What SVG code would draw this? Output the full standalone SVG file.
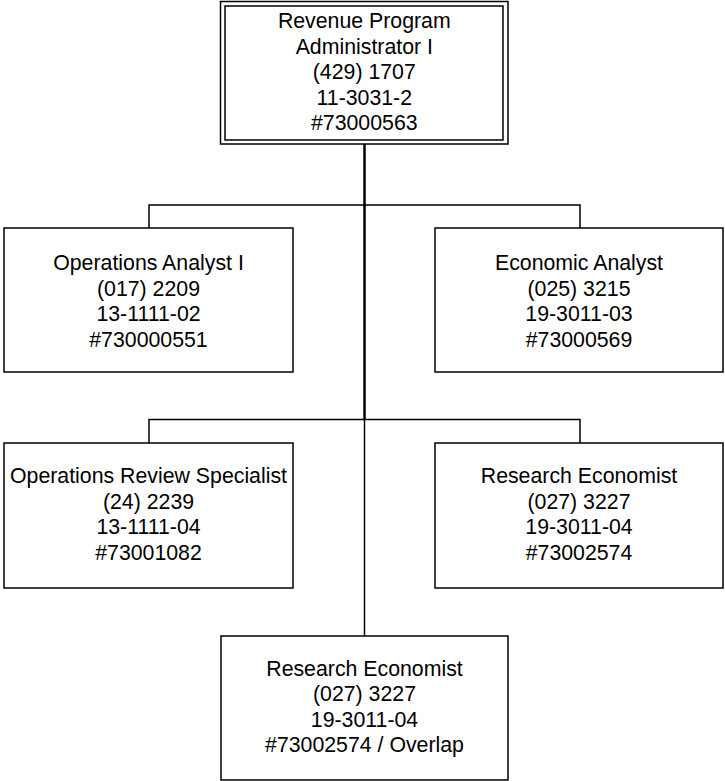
<svg xmlns="http://www.w3.org/2000/svg" width="725" height="781" viewBox="0 0 725 781">
  <style>
    .box { fill: #ffffff; stroke: #000000; stroke-width: 1.5; }
    .wire { fill: none; stroke: #000000; stroke-width: 1.5; }
    .trunk { fill: none; stroke: #000000; stroke-width: 2.5; }
    text { font-family: "Liberation Sans", Arial, sans-serif; font-size: 21.3px; fill: #000000; text-anchor: middle; }
  </style>
  <rect x="0" y="0" width="725" height="781" fill="#ffffff"/>

  <!-- reporting lines -->
  <g id="connectors">
    <path class="trunk" d="M364.5 144 V419.5"/>
    <path class="wire" d="M364.5 419.5 V636"/>
    <path class="wire" d="M149 228 V205 H580 V228"/>
    <path class="wire" d="M149 443 V419.5 H580 V443"/>
  </g>

  <g id="node-admin">
    <rect class="box" x="220.5" y="1.5" width="287.5" height="142.5"/>
    <rect class="box" x="225" y="6" width="278" height="134"/>
    <text x="364.3" y="28">Revenue Program</text>
    <text x="364.3" y="53.5">Administrator I</text>
    <text x="364.3" y="79">(429) 1707</text>
    <text x="364.3" y="104.5">11-3031-2</text>
    <text x="364.3" y="130">#73000563</text>
  </g>

  <g id="node-ops-analyst">
    <rect class="box" x="4" y="228" width="289" height="144"/>
    <text x="148.5" y="270">Operations Analyst I</text>
    <text x="148.5" y="295.5">(017) 2209</text>
    <text x="148.5" y="321">13-1111-02</text>
    <text x="148.5" y="346.5">#730000551</text>
  </g>

  <g id="node-econ-analyst">
    <rect class="box" x="435" y="228" width="288" height="144"/>
    <text x="579" y="270">Economic Analyst</text>
    <text x="579" y="295.5">(025) 3215</text>
    <text x="579" y="321">19-3011-03</text>
    <text x="579" y="346.5">#73000569</text>
  </g>

  <g id="node-ops-review">
    <rect class="box" x="4" y="443" width="289" height="145"/>
    <text x="148.5" y="483">Operations Review Specialist</text>
    <text x="148.5" y="508.5">(24) 2239</text>
    <text x="148.5" y="534">13-1111-04</text>
    <text x="148.5" y="559.5">#73001082</text>
  </g>

  <g id="node-research-econ">
    <rect class="box" x="435" y="443" width="288" height="145"/>
    <text x="579" y="483">Research Economist</text>
    <text x="579" y="508.5">(027) 3227</text>
    <text x="579" y="534">19-3011-04</text>
    <text x="579" y="559.5">#73002574</text>
  </g>

  <g id="node-research-econ-overlap">
    <rect class="box" x="221" y="636" width="287" height="144"/>
    <text x="364.5" y="675.5">Research Economist</text>
    <text x="364.5" y="701">(027) 3227</text>
    <text x="364.5" y="726.5">19-3011-04</text>
    <text x="364.5" y="752">#73002574 / Overlap</text>
  </g>
</svg>
